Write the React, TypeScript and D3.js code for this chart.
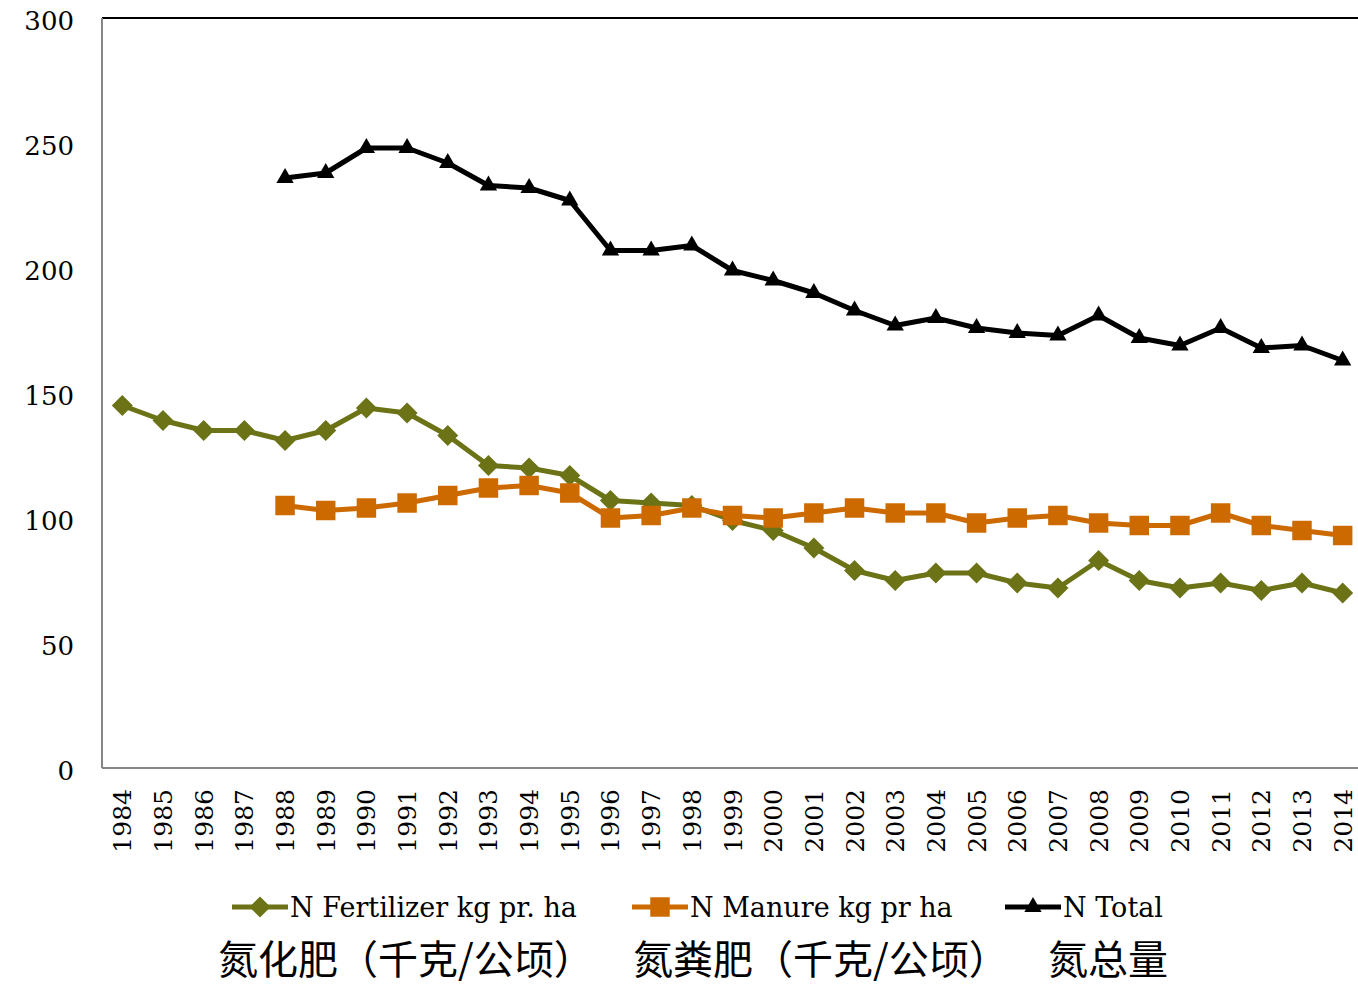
import React from "react";
import * as d3 from "d3";

const years = d3.range(1984, 2015).map(String);
const fertilizer: (number | null)[] = [145, 139, 135, 135, 131, 135, 144, 142, 133, 121, 120, 117, 107, 106, 105, 99, 95, 88, 79, 75, 78, 78, 74, 72, 83, 75, 72, 74, 71, 74, 70];
const manure: (number | null)[] = [null, null, null, null, 105, 103, 104, 106, 109, 112, 113, 110, 100, 101, 104, 101, 100, 102, 104, 102, 102, 98, 100, 101, 98, 97, 97, 102, 97, 95, 93];
const total: (number | null)[] = [null, null, null, null, 236, 238, 248, 248, 242, 233, 232, 227, 207, 207, 209, 199, 195, 190, 183, 177, 180, 176, 174, 173, 181, 172, 169, 176, 168, 169, 163];
const yTicks = [0, 50, 100, 150, 200, 250, 300];
const legendLabels = ["N Fertilizer kg pr. ha", "N Manure kg pr ha", "N Total"];
const cnLabels = ["氮化肥（千克/公顷）", "氮粪肥（千克/公顷）", "氮总量"];

const W = 1358, H = 987;
const L = 102, R = 1363, T = 18, B = 768;
const colors = ["#6b7316", "#cc6a00", "#000000"];
const serif = "DejaVu Serif";

const diamond = (r: number) => `M0,${-r}L${r},0L0,${r}L${-r},0Z`;
const squareP = d3.symbol(d3.symbolSquare, 380)();
const triP = d3.symbol(d3.symbolTriangle, 130)();
const markerPaths = [diamond(10.5), squareP, triP];

export default function App() {
  const x = d3.scaleBand().domain(years).range([L, R]);
  const y = d3.scaleLinear().domain([0, 300]).range([B, T]);
  const cx = (yr: string) => (x(yr) as number) + x.bandwidth() / 2;
  const series = [fertilizer, manure, total];
  const line = d3
    .line<number | null>()
    .defined((d) => d != null)
    .x((_, i) => cx(years[i]))
    .y((d) => y(d as number));

  const legendX = [232, 632, 1005];
  const cnX = [218, 633, 1048];

  return (
    <svg width={W} height={H} style={{ position: "absolute", left: 0, top: 0, background: "#fff" }}>
      <rect x={0} y={0} width={W} height={H} fill="#fff" />
      <line x1={L} x2={W} y1={T} y2={T} stroke="#000" strokeWidth={2} />
      <line x1={L} x2={L} y1={T} y2={B} stroke="#868686" strokeWidth={2} />
      <line x1={L} x2={W} y1={B} y2={B} stroke="#868686" strokeWidth={2} />
      {yTicks.map((t) => (
        <text key={t} x={74} y={y(t) + 3} dy="0.36em" textAnchor="end" fontFamily={serif} fontSize={26} fill="#000">
          {t}
        </text>
      ))}
      {years.map((yr) => (
        <text
          key={yr}
          transform={`translate(${cx(yr)},${789}) rotate(-90)`}
          textAnchor="end"
          dy="0.36em"
          fontFamily={serif}
          fontSize={25}
          fill="#000"
        >
          {yr}
        </text>
      ))}
      {series.map((s, si) => (
        <g key={si}>
          <path d={line(s) || ""} fill="none" stroke={colors[si]} strokeWidth={5} strokeLinejoin="round" />
          {s.map((v, i) =>
            v == null ? null : (
              <path key={i} d={markerPaths[si]} transform={`translate(${cx(years[i])},${y(v)})`} fill={colors[si]} />
            )
          )}
        </g>
      ))}
      {legendLabels.map((lab, i) => (
        <g key={lab}>
          <line x1={legendX[i]} x2={legendX[i] + 56} y1={907} y2={907} stroke={colors[i]} strokeWidth={5} />
          <path d={markerPaths[i]} transform={`translate(${legendX[i] + 28},907)`} fill={colors[i]} />
          <text x={legendX[i] + 58} y={907} dy="0.36em" fontFamily={serif} fontSize={27} fill="#000">
            {lab}
          </text>
        </g>
      ))}
      {cnLabels.map((lab, i) => (
        <text key={lab} x={cnX[i]} y={974} fontFamily="Noto Sans CJK SC" fontSize={40} fill="#000">
          {lab}
        </text>
      ))}
    </svg>
  );
}
